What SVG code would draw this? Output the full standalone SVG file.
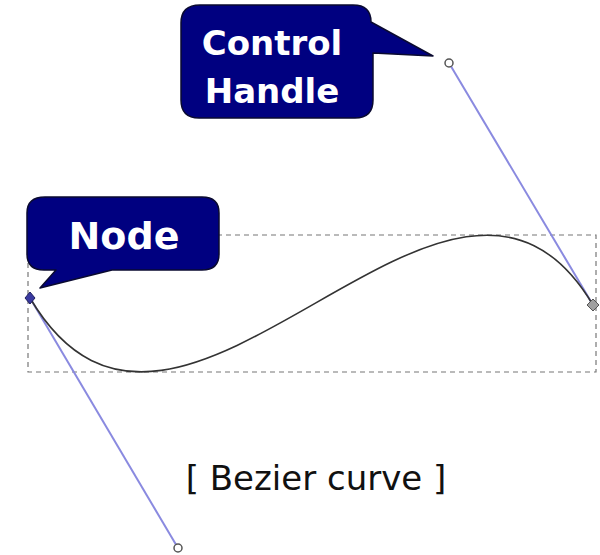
<svg xmlns="http://www.w3.org/2000/svg" width="600" height="555" viewBox="0 0 600 555">
<style>
.callout{fill:#000080;stroke:#0a0a30;stroke-width:1.5;stroke-linejoin:round}
.ct{font-family:"DejaVu Sans","Liberation Sans",sans-serif;font-weight:bold;fill:#ffffff;text-anchor:middle}
.handle{stroke:#8a8ae0;stroke-width:2;fill:none}
.hc{fill:#ffffff;stroke:#555555;stroke-width:1.5}
</style>
<rect width="600" height="555" fill="#ffffff"/>
<g id="bbox">
<rect x="28" y="235" width="568" height="137" fill="none" stroke="#777777" stroke-width="1.2" stroke-dasharray="5,4"/>
</g>
<g id="connectors">
<line class="handle" x1="30" y1="298" x2="178" y2="548"/>
<line class="handle" x1="593" y1="305" x2="449" y2="63"/>
<path d="M30,298 C178,548 449,63 593,305" fill="none" stroke="#333333" stroke-width="1.6"/>
</g>
<g id="handle1"><circle class="hc" cx="449" cy="63" r="4"/></g>
<g id="handle2"><circle class="hc" cx="178" cy="548" r="4"/></g>
<g id="node-left"><path d="M30,292 L35,298 L30,304 L25,298 Z" fill="#3a3aa0" stroke="#202060" stroke-width="1"/></g>
<g id="node-right"><path d="M593,299 L599,305 L593,311 L587,305 Z" fill="#a0a0a0" stroke="#555555" stroke-width="1"/></g>
<g id="callout-control">
<path class="callout" d="M200,5 H353 Q371,5 371,22 L433,56 L373,53 V100 Q373,118 355,118 H199 Q181,118 181,100 V23 Q181,5 200,5 Z"/>
<text class="ct" x="272" y="55" font-size="34">Control</text>
<text class="ct" x="272" y="103" font-size="34">Handle</text>
</g>
<g id="callout-node">
<path class="callout" d="M45,197 H202 Q219,197 219,213 V254 Q219,270 202,270 H112 L40,288 L56,270 H44 Q27,270 27,254 V213 Q27,197 45,197 Z"/>
<text class="ct" x="124" y="249" font-size="38">Node</text>
</g>
<g id="caption">
<text x="316" y="490" font-family="DejaVu Sans, sans-serif" font-size="34" text-anchor="middle" fill="#111111">[ Bezier curve ]</text>
</g>
</svg>
